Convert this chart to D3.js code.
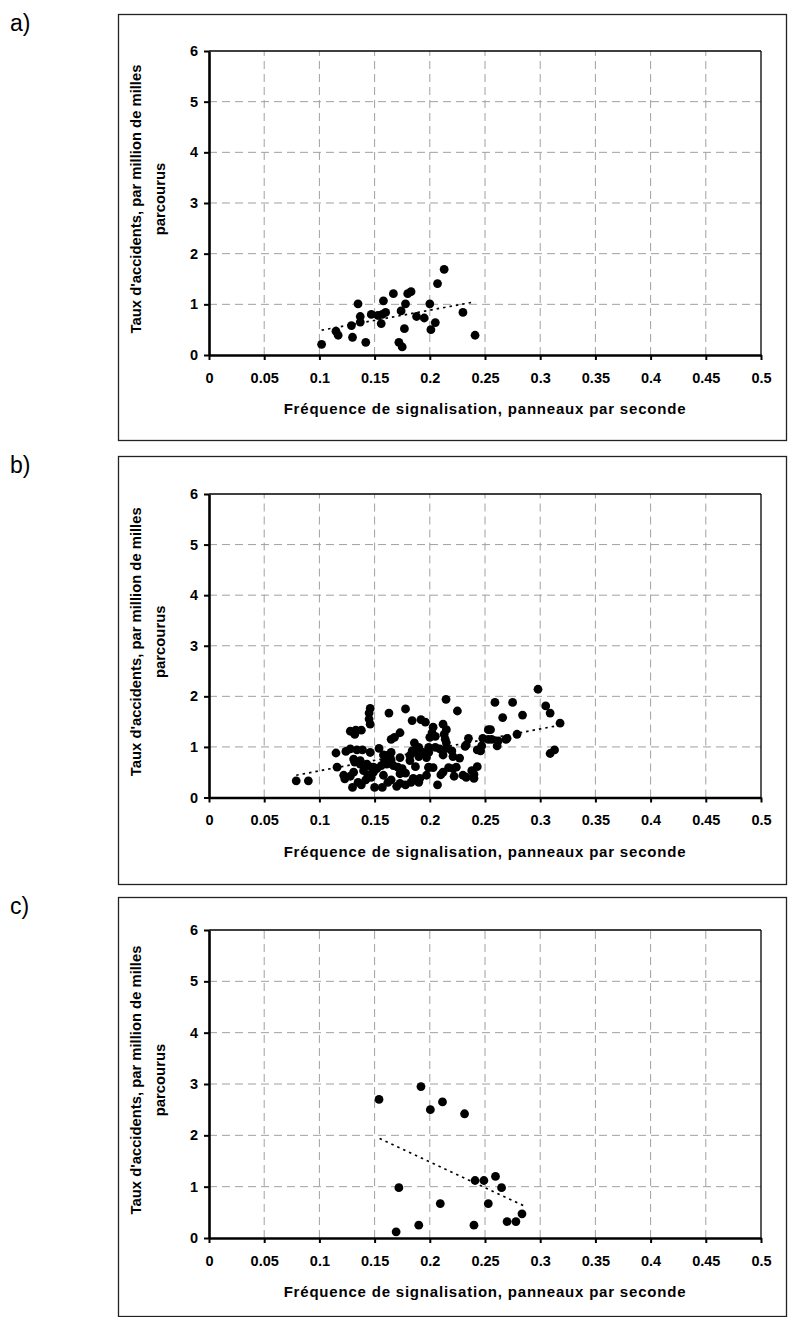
<!DOCTYPE html>
<html><head><meta charset="utf-8">
<script src="https://cdn.jsdelivr.net/npm/d3@7"></script>
<style>body{margin:0;background:#fff}svg{display:block}text{font-family:"Liberation Sans",Arial,sans-serif}</style>
</head><body>
<script>
// ---------- data ----------
const panelLabels = ["a)", "b)", "c)"];
const xTickValues = [0, 0.05, 0.1, 0.15, 0.2, 0.25, 0.3, 0.35, 0.4, 0.45, 0.5];
const xTickLabels = ["0", "0.05", "0.1", "0.15", "0.2", "0.25", "0.3", "0.35", "0.4", "0.45", "0.5"];
const yTickValues = [0, 1, 2, 3, 4, 5, 6];
const xTitle = "Fréquence de signalisation, panneaux par seconde";
const yTitleLines = ["Taux d'accidents, par million de milles", "parcourus"];

// panel a
const aFreq = [0.102,0.115,0.117,0.129,0.130,0.135,0.137,0.137,0.142,0.147,0.153,0.157,0.160,0.158,0.156,0.167,0.174,0.177,0.172,0.175,0.178,0.180,0.183,0.188,0.195,0.200,0.201,0.205,0.207,0.213,0.230,0.241];
const aRate = [0.21,0.47,0.39,0.58,0.35,1.01,0.76,0.65,0.25,0.80,0.78,0.80,0.84,1.07,0.62,1.21,0.87,0.52,0.25,0.16,1.01,1.21,1.25,0.76,0.73,1.01,0.50,0.64,1.41,1.69,0.84,0.39];
const aTrendFreq = [0.102, 0.241];
const aTrendRate = [0.49, 1.05];

// panel b
const bFreq = [0.079,0.090,0.115,0.116,0.124,0.122,0.123,0.128,0.131,
  0.128,0.133,0.138,0.132,0.128,0.134,0.139,
  0.131,0.132,0.137,0.137,0.142,0.143,0.147,0.149,0.149,0.152,
  0.140,0.144,0.147,0.146,0.145,0.145,0.146,0.146,
  0.154,0.158,0.162,0.165,0.159,0.161,0.156,0.165,0.161,
  0.163,0.178,0.165,0.168,0.173,0.158,0.167,0.171,0.175,0.178,0.173,0.173,
  0.184,0.192,0.196,0.186,0.190,0.188,0.184,0.182,0.190,0.182,
  0.187,0.197,0.199,0.199,0.191,0.185,
  0.200,0.202,0.203,0.212,0.215,0.213,0.214,0.215,0.205,
  0.2147,0.225,0.199,0.205,0.209,0.215,0.220,0.194,
  0.212,0.221,0.227,0.233,0.235,0.232,0.243,0.246,0.247,
  0.248,0.253,0.255,0.253,0.256,0.262,0.261,0.269,0.270,
  0.279,0.266,0.259,0.275,0.284,0.298,0.305,0.309,0.318,0.309,0.313,
  0.199,0.203,0.212,0.217,0.221,0.224,0.230,0.238,0.240,0.243,0.197,
  0.130,0.135,0.138,0.142,0.150,0.157,0.162,0.165,0.170,0.173,0.178,0.183,0.190,0.207,0.240,0.233,0.222,0.210];
const bRate = [0.33,0.33,0.88,0.60,0.91,0.44,0.37,0.42,0.50,
  1.31,1.33,1.33,1.25,0.96,0.94,0.94,
  0.76,0.70,0.66,0.73,0.63,0.66,0.60,0.50,0.60,0.57,
  0.53,0.44,0.40,1.76,1.67,1.55,1.45,0.89,
  0.97,0.84,0.79,0.74,0.73,0.66,0.63,0.89,0.83,
  1.67,1.75,1.15,1.19,1.28,0.44,0.63,0.60,0.57,0.48,0.47,0.79,
  1.52,1.54,1.49,1.08,0.99,0.89,0.92,0.73,0.81,0.83,
  0.61,0.79,0.89,0.60,0.38,0.38,
  1.19,1.28,1.39,1.45,1.34,1.25,1.15,1.08,1.21,
  1.94,1.71,0.99,0.99,0.96,0.97,0.92,0.89,
  0.84,0.81,0.78,1.04,1.17,1.01,0.94,0.92,1.02,
  1.17,1.34,1.34,1.15,1.15,1.12,1.02,1.15,1.17,
  1.25,1.58,1.88,1.88,1.63,2.14,1.81,1.67,1.47,0.87,0.94,
  0.59,0.59,0.50,0.59,0.57,0.60,0.44,0.53,0.46,0.61,0.44,
  0.20,0.30,0.25,0.35,0.20,0.20,0.30,0.35,0.22,0.28,0.25,0.30,0.30,0.25,0.38,0.40,0.42,0.45];
const bTrendFreq = [0.079, 0.318];
const bTrendRate = [0.44, 1.43];

// panel c
const cFreq = [0.154,0.192,0.2005,0.2115,0.2315,0.172,0.1695,0.190,0.2095,0.240,0.241,0.249,0.2595,0.265,0.253,0.270,0.278,0.2835];
const cRate = [2.70,2.95,2.50,2.65,2.42,0.98,0.12,0.25,0.67,0.25,1.12,1.12,1.20,0.98,0.67,0.32,0.32,0.47];
const cTrendFreq = [0.1545, 0.285];
const cTrendRate = [1.94, 0.63];

const panels = [
  {label: panelLabels[0], fx: aFreq, fy: aRate, tx: aTrendFreq, ty: aTrendRate},
  {label: panelLabels[1], fx: bFreq, fy: bRate, tx: bTrendFreq, ty: bTrendRate},
  {label: panelLabels[2], fx: cFreq, fy: cRate, tx: cTrendFreq, ty: cTrendRate}
];

// ---------- layout ----------
const W = 788, H = 1317;
const layout = [
  {boxTop: 14, boxBottom: 440, plotTop: 51, plotBottom: 355},
  {boxTop: 456, boxBottom: 884, plotTop: 494, plotBottom: 797.5},
  {boxTop: 897, boxBottom: 1316, plotTop: 930, plotBottom: 1238}
];

const svg = d3.select("body").append("svg").attr("width", W).attr("height", H);
svg.append("rect").attr("width", W).attr("height", H).attr("fill", "#fff");

panels.forEach((p, i) => {
  const L = layout[i];
  const g = svg.append("g");
  const x = d3.scaleLinear().domain([0, 0.5]).range([209, 761]);
  const y = d3.scaleLinear().domain([0, 6]).range([L.plotBottom, L.plotTop]);

  // outer box
  g.append("rect").attr("x", 118.5).attr("y", L.boxTop + 0.5)
    .attr("width", 668).attr("height", L.boxBottom - L.boxTop)
    .attr("fill", "none").attr("stroke", "#222").attr("stroke-width", 1.3);

  // panel label
  g.append("text").attr("x", 10).attr("y", L.boxTop + 17)
    .attr("font-size", 23).attr("fill", "#000").text(p.label);

  // gridlines
  g.selectAll(".vg").data(xTickValues.filter(v => v > 0 && v < 0.5)).enter()
    .append("line").attr("x1", d => x(d)).attr("x2", d => x(d))
    .attr("y1", y(0)).attr("y2", y(6))
    .attr("stroke", "#a0a0a0").attr("stroke-width", 1).attr("stroke-dasharray", "8,5");
  g.selectAll(".hg").data(yTickValues.filter(v => v > 0 && v < 6)).enter()
    .append("line").attr("x1", x(0)).attr("x2", x(0.5))
    .attr("y1", d => y(d)).attr("y2", d => y(d))
    .attr("stroke", "#a0a0a0").attr("stroke-width", 1).attr("stroke-dasharray", "8,5");

  // top/right borders
  g.append("line").attr("x1", x(0)).attr("x2", x(0.5)).attr("y1", y(6)).attr("y2", y(6))
    .attr("stroke", "#000").attr("stroke-width", 1.3);
  g.append("line").attr("x1", x(0.5)).attr("x2", x(0.5)).attr("y1", y(6)).attr("y2", y(0))
    .attr("stroke", "#000").attr("stroke-width", 1.3);

  // axes
  const ax = g.append("g").attr("transform", `translate(0,${y(0)})`)
    .call(d3.axisBottom(x).tickValues(xTickValues).tickFormat((d, k) => xTickLabels[k])
      .tickSize(5).tickSizeOuter(0).tickPadding(12.5));
  const ay = g.append("g").attr("transform", `translate(${x(0)},0)`)
    .call(d3.axisLeft(y).tickValues(yTickValues).tickFormat(d3.format("d"))
      .tickSize(5).tickSizeOuter(0).tickPadding(6));
  [ax, ay].forEach(a => {
    a.select(".domain").attr("stroke", "#000").attr("stroke-width", 2.6);
    a.selectAll(".tick line").attr("stroke", "#000").attr("stroke-width", 2);
    a.selectAll(".tick text").attr("font-family", '"Liberation Sans",Arial,sans-serif')
      .attr("font-size", 14.5).attr("font-weight", "bold").attr("fill", "#000");
  });

  // axis titles
  g.append("text").attr("x", (x(0) + x(0.5)) / 2).attr("y", L.plotBottom + 59)
    .attr("text-anchor", "middle").attr("font-size", 15).attr("font-weight", "bold")
    .attr("letter-spacing", 0.8).text(xTitle);
  const cy = (L.plotTop + L.plotBottom) / 2 - 4;
  yTitleLines.forEach((t, k) => {
    g.append("text").attr("transform", `translate(${141 + k * 24},${cy}) rotate(-90)`)
      .attr("text-anchor", "middle").attr("font-size", 14.8).attr("font-weight", "bold").text(t);
  });

  // trend line
  const tl = p.tx.map((v, k) => [v, p.ty[k]]);
  g.append("path").datum(tl)
    .attr("d", d3.line().x(d => x(d[0])).y(d => y(d[1])))
    .attr("fill", "none").attr("stroke", "#000").attr("stroke-width", 1.7)
    .attr("stroke-dasharray", "2.5,4");

  // points
  g.selectAll(".pt").data(p.fx.map((v, k) => [v, p.fy[k]])).enter()
    .append("circle").attr("cx", d => x(d[0])).attr("cy", d => y(d[1]))
    .attr("r", 4.4).attr("fill", "#000");
});
</script>
</body></html>
